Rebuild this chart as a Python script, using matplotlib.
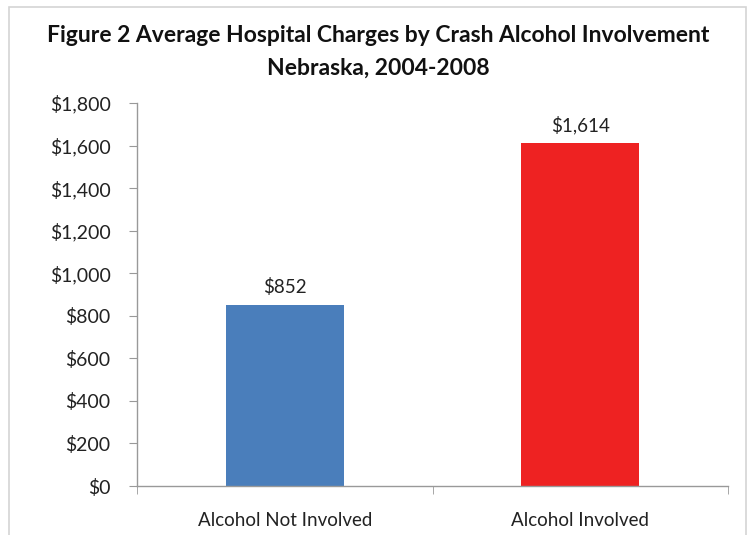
import matplotlib.pyplot as plt
from matplotlib.patches import Rectangle
from matplotlib.ticker import FuncFormatter
import numpy as np

categories = ['Alcohol Not Involved', 'Alcohol Involved']
charges = [852, 1614]
bar_colors = ['#4A7EBB', '#EE2222']
y_ticks = [0, 200, 400, 600, 800, 1000, 1200, 1400, 1600, 1800]

plt.rcParams['font.family'] = ['Lato', 'DejaVu Sans']

fig = plt.figure(figsize=(7.52, 5.35), dpi=100)
ax = fig.add_axes([137 / 752, 1 - 486 / 535, (728 - 137) / 752, (486 - 103) / 535])

x = np.arange(len(categories))
ax.bar(x, charges, width=0.4, color=bar_colors)
for xi, v in zip(x, charges):
    ax.text(xi, v + 40, '${:,}'.format(v), ha='center', va='bottom', fontsize=13.5, color='#222222')

ax.set_xlim(-0.5, 1.5)
ax.set_ylim(0, 1800)
ax.set_yticks(y_ticks)
ax.yaxis.set_major_formatter(FuncFormatter(lambda v, p: '${:,.0f}'.format(v)))
ax.set_xticks(x)
ax.set_xticklabels(categories)
ax.set_xticks([-0.5, 0.5, 1.5], minor=True)
ax.tick_params(axis='x', which='major', length=0, pad=19, labelsize=13.5, labelcolor='#222222')
ax.tick_params(axis='x', which='minor', length=6, color='#999999', direction='out')
ax.tick_params(axis='y', length=6, color='#999999', labelsize=14, labelcolor='#222222', pad=13)

for side in ['top', 'right']:
    ax.spines[side].set_visible(False)
for side in ['left', 'bottom']:
    ax.spines[side].set_color('#999999')
    ax.spines[side].set_linewidth(1.0)

fig.text(378 / 752, 1 - 36 / 535, 'Figure 2 Average Hospital Charges by Crash Alcohol Involvement',
         ha='center', va='center', fontsize=16.5, fontweight='bold', color='#111111')
fig.text(378 / 752, 1 - 68 / 535, 'Nebraska, 2004-2008',
         ha='center', va='center', fontsize=16.5, fontweight='bold', color='#111111')

fig.patches.append(Rectangle((9 / 752, -0.02), 737 / 752, 1 - 7 / 535 + 0.02,
                             transform=fig.transFigure, fill=False,
                             edgecolor='#D4D4D4', linewidth=1.2))

plt.savefig('out.png', dpi=100)
